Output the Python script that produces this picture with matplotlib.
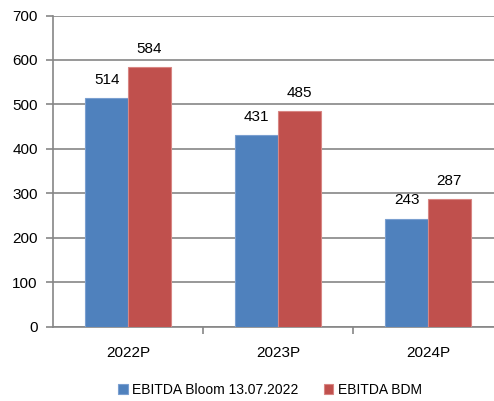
import matplotlib.pyplot as plt
import numpy as np

categories = ["2022P", "2023P", "2024P"]
bloom = [514, 431, 243]
bdm = [584, 485, 287]
series_names = ["EBITDA Bloom 13.07.2022", "EBITDA BDM"]

plt.rcParams['font.family'] = ['Liberation Sans', 'DejaVu Sans']

W, H = 494, 401
fig = plt.figure(figsize=(W / 100, H / 100), dpi=100)
# plot area runs past the right edge, like the cropped original
ax = fig.add_axes([53 / W, 1 - 326.5 / H, 450 / W, 311 / H])

x = np.arange(len(categories))
bw = 0.285
grey = "#868686"
b1 = ax.bar(x - bw / 2, bloom, bw, color="#4F81BD", edgecolor="#7A9FD0", linewidth=0.8, zorder=3)
b2 = ax.bar(x + bw / 2, bdm, bw, color="#C0504D", edgecolor="#D88683", linewidth=0.8, zorder=3)

for bars in (b1, b2):
    for r in bars:
        ax.annotate(f"{int(r.get_height())}", (r.get_x() + r.get_width() / 2, r.get_height()),
                    xytext=(0, 13), textcoords="offset points", ha="center", va="center", fontsize=11)

ax.set_xlim(-0.5, 2.5)
ax.set_ylim(0, 700)
ax.set_yticks(range(0, 701, 100))
ax.yaxis.grid(True, color=grey, linewidth=1.2, zorder=0)
ax.set_xticks(x)
ax.set_xticklabels(categories, fontsize=11)
ax.set_xticks([0.5, 1.5, 2.5], minor=True)
ax.tick_params(axis='x', which='major', length=0, pad=14)
ax.tick_params(axis='x', which='minor', length=5, color=grey, width=1.2)
ax.tick_params(axis='y', length=5, color=grey, width=1.2, labelsize=11, pad=6)

for s in ["top", "right"]:
    ax.spines[s].set_visible(False)
for s in ["left", "bottom"]:
    ax.spines[s].set_color(grey)
    ax.spines[s].set_linewidth(1.2)

fig.legend([b1, b2], series_names, loc="center", bbox_to_anchor=(270 / W, 1 - 390 / H),
           ncol=2, frameon=False, fontsize=10, handlelength=0.7, handleheight=0.7,
           handletextpad=0.3, columnspacing=1.8)

fig.savefig("out.png", dpi=100)
